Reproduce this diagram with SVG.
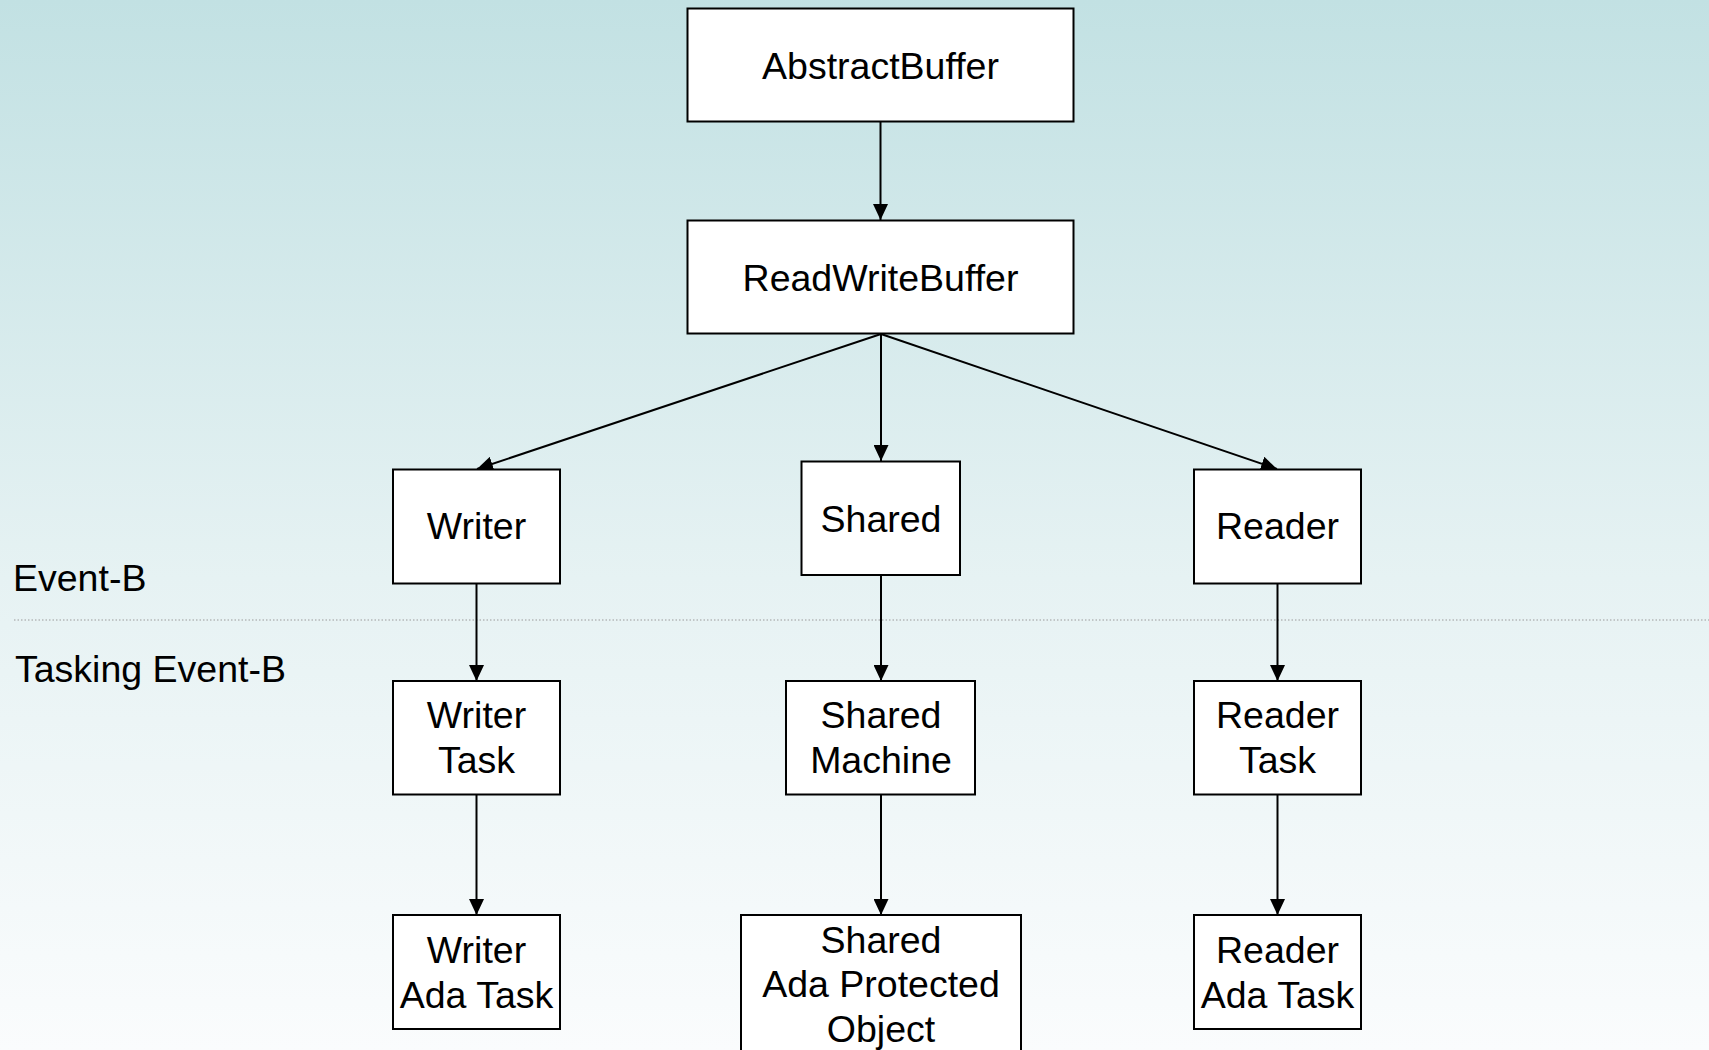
<svg xmlns="http://www.w3.org/2000/svg" width="1709" height="1050" viewBox="0 0 1709 1050">
<defs>
<linearGradient id="bg" x1="0" y1="0" x2="0" y2="1">
<stop offset="0" stop-color="#c2e1e3"/>
<stop offset="0.55" stop-color="#e6f2f3"/>
<stop offset="1" stop-color="#fafcfd"/>
</linearGradient>
<marker id="arr" markerWidth="16" markerHeight="15" refX="16" refY="7.5" orient="auto" markerUnits="userSpaceOnUse">
<path d="M0,0 L16,7.5 L0,15 Z" fill="#000"/>
</marker>
<style>
.box{fill:#fff;stroke:#000;stroke-width:2}
.t{font-family:"Liberation Sans",Arial,sans-serif;font-size:37.5px;fill:#000;text-anchor:middle}
.l{font-family:"Liberation Sans",Arial,sans-serif;font-size:37.5px;fill:#000}
.c{stroke:#000;stroke-width:2;fill:none;marker-end:url(#arr)}
</style>
</defs>
<rect x="0" y="0" width="1709" height="1050" fill="url(#bg)"/>
<line x1="14" y1="620" x2="1709" y2="620" stroke="#9a9a9a" stroke-width="1.2" stroke-dasharray="1.5,2"/>
<text class="l" x="13" y="591">Event-B</text>
<text class="l" x="15" y="682">Tasking Event-B</text>
<g id="connectors">
<line class="c" x1="880.5" y1="121" x2="880.5" y2="220"/>
<line class="c" x1="881" y1="334" x2="477" y2="469"/>
<line class="c" x1="881" y1="334" x2="881" y2="461"/>
<line class="c" x1="881" y1="334" x2="1277" y2="469"/>
<line class="c" x1="476.5" y1="583" x2="476.5" y2="681"/>
<line class="c" x1="881" y1="575" x2="881" y2="681"/>
<line class="c" x1="1277.5" y1="583" x2="1277.5" y2="681"/>
<line class="c" x1="476.5" y1="794" x2="476.5" y2="915"/>
<line class="c" x1="881" y1="794" x2="881" y2="915"/>
<line class="c" x1="1277.5" y1="794" x2="1277.5" y2="915"/>
</g>
<g id="abstractbuffer">
<rect class="box" x="687.5" y="8.5" width="386" height="113"/>
<text class="t" x="880.5" y="79">AbstractBuffer</text>
</g>
<g id="readwritebuffer">
<rect class="box" x="687.5" y="220.5" width="386" height="113"/>
<text class="t" x="880.5" y="291">ReadWriteBuffer</text>
</g>
<g id="writer">
<rect class="box" x="393" y="469.5" width="167" height="114"/>
<text class="t" x="476.5" y="539">Writer</text>
</g>
<g id="shared">
<rect class="box" x="801.5" y="461.5" width="158.5" height="113.5"/>
<text class="t" x="881" y="532">Shared</text>
</g>
<g id="reader">
<rect class="box" x="1194" y="469.5" width="167" height="114"/>
<text class="t" x="1277.5" y="539">Reader</text>
</g>
<g id="writertask">
<rect class="box" x="393" y="681" width="167" height="113.5"/>
<text class="t" x="476.5" y="728">Writer</text>
<text class="t" x="476.5" y="773">Task</text>
</g>
<g id="sharedmachine">
<rect class="box" x="786" y="681" width="189" height="113.5"/>
<text class="t" x="881" y="728">Shared</text>
<text class="t" x="881" y="773">Machine</text>
</g>
<g id="readertask">
<rect class="box" x="1194" y="681" width="167" height="113.5"/>
<text class="t" x="1277.5" y="728">Reader</text>
<text class="t" x="1277.5" y="773">Task</text>
</g>
<g id="writeradatask">
<rect class="box" x="393" y="915" width="167" height="114"/>
<text class="t" x="476.5" y="963">Writer</text>
<text class="t" x="476.5" y="1008">Ada Task</text>
</g>
<g id="sharedadaprotectedobject">
<rect class="box" x="741" y="915" width="280" height="145"/>
<text class="t" x="881" y="953">Shared</text>
<text class="t" x="881" y="997">Ada Protected</text>
<text class="t" x="881" y="1042">Object</text>
</g>
<g id="readeradatask">
<rect class="box" x="1194" y="915" width="167" height="114"/>
<text class="t" x="1277.5" y="963">Reader</text>
<text class="t" x="1277.5" y="1008">Ada Task</text>
</g>
</svg>
